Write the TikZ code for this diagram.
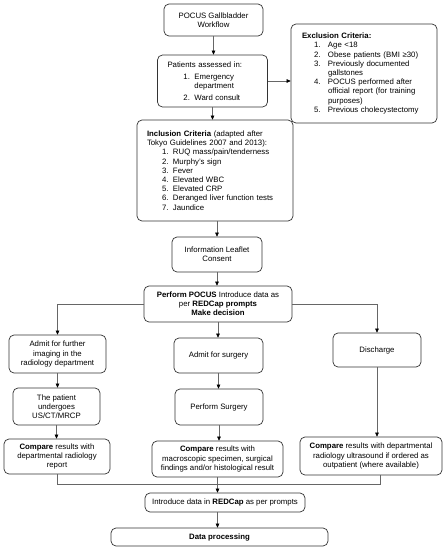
\documentclass[tikz,border=0pt]{standalone}
\usepackage{fontspec}
\setmainfont{Liberation Sans}
\usetikzlibrary{arrows.meta}
\newcommand\fsz{\fontsize{7.8}{9.2}\selectfont}
\newcommand\numb[1]{\makebox[11pt][l]{#1}}
\newcommand\numc[1]{\makebox[14pt][l]{#1}}
\begin{document}
\begin{tikzpicture}[x=1pt,y=-1pt,
  box/.style={draw=black!80, line width=0.7pt, rounded corners=5pt, inner sep=0pt, align=center, font=\fsz},
  conn/.style={draw=black!60, line width=0.6pt},
  arr/.style={conn, -{Triangle[length=4pt,width=3.6pt,color=black]}}]
\useasboundingbox[fill=white] (0,0) rectangle (445,550);

\node[box, minimum width=99pt, minimum height=32pt] (pocus) at (213.5,20) {POCUS Gallbladder\\Workflow};

\node[box, minimum width=110pt, minimum height=52pt, text width=90pt, align=left] (patients) at (212.5,81)
 {Patients assessed in:\\[2.5pt]
  \hspace*{16pt}\numb{1.}Emergency\\
  \hspace*{27pt}department\\[2.5pt]
  \hspace*{16pt}\numb{2.}Ward consult};

\node[box, minimum width=146pt, minimum height=99pt, text width=124pt, align=left] (excl) at (364,73.5)
 {\textbf{Exclusion Criteria:}\\
  \hspace*{12pt}\numc{1.}Age <18\\
  \hspace*{12pt}\numc{2.}Obese patients (BMI ≥30)\\
  \hspace*{12pt}\numc{3.}Previously documented\\
  \hspace*{26pt}gallstones\\
  \hspace*{12pt}\numc{4.}POCUS performed after\\
  \hspace*{26pt}official report (for training\\
  \hspace*{26pt}purposes)\\
  \hspace*{12pt}\numc{5.}Previous cholecystectomy};

\node[box, minimum width=156pt, minimum height=101pt, text width=136pt, align=left] (incl) at (215,170.5)
 {\textbf{Inclusion Criteria} (adapted after\\
  Tokyo Guidelines 2007 and 2013):\\
  \hspace*{15pt}\numb{1.}RUQ mass/pain/tenderness\\
  \hspace*{15pt}\numb{2.}Murphy's sign\\
  \hspace*{15pt}\numb{3.}Fever\\
  \hspace*{15pt}\numb{4.}Elevated WBC\\
  \hspace*{15pt}\numb{5.}Elevated CRP\\
  \hspace*{15pt}\numb{6.}Deranged liver function tests\\
  \hspace*{15pt}\numb{7.}Jaundice};

\node[box, minimum width=90pt, minimum height=35pt] (info) at (217,254.5) {Information Leaflet\\Consent};

\node[box, minimum width=148pt, minimum height=36pt] (perform) at (218,304)
 {\textbf{Perform POCUS} Introduce data as\\per \textbf{REDCap prompts}\\\textbf{Make decision}};

\node[box, minimum width=97pt, minimum height=38pt] (admitF) at (57.5,354) {Admit for further\\imaging in the\\radiology department};
\node[box, minimum width=87pt, minimum height=37pt] (undergo) at (56.5,406.5) {The patient\\undergoes\\US/CT/MRCP};
\node[box, minimum width=106pt, minimum height=35pt] (cmpL) at (57,456.5) {\textbf{Compare} results with\\departmental radiology\\report};

\node[box, minimum width=89pt, minimum height=35pt] (admitS) at (218.5,355.5) {Admit for surgery};
\node[box, minimum width=88pt, minimum height=36pt] (perfS) at (219,407) {Perform Surgery};
\node[box, minimum width=131pt, minimum height=36pt] (cmpM) at (217.5,459) {\textbf{Compare} results with\\macroscopic specimen, surgical\\findings and/or histological result};

\node[box, minimum width=88pt, minimum height=34pt] (discharge) at (377,350) {Discharge};
\node[box, minimum width=142pt, minimum height=38pt] (cmpR) at (371,456) {\textbf{Compare} results with departmental\\radiology ultrasound if ordered as\\outpatient (where available)};

\node[box, minimum width=160pt, minimum height=19pt] (intro) at (225,502.5) {Introduce data in \textbf{REDCap} as per prompts};
\node[box, minimum width=217pt, minimum height=18pt] (data) at (219.5,537) {\textbf{Data processing}};

% connectors
\draw[arr] (pocus.south) -- (pocus.south |- patients.north);
\draw[arr] (patients.east) -- (patients.east -| excl.west);
\draw[arr] (patients.south) -- (patients.south |- incl.north);
\draw[arr] ([xshift=2pt]incl.south) -- ([xshift=2pt]incl.south |- info.north);
\draw[arr] (info.south) -- (info.south |- perform.north);
\draw[arr] (perform.west) -| (admitF.north);
\draw[arr] (perform.east) -| (discharge.north);
\draw[arr] (perform.south) -- (perform.south |- admitS.north);
\draw[arr] (admitF.south) -- (admitF.south |- undergo.north);
\draw[arr] (undergo.south) -- (undergo.south |- cmpL.north);
\draw[arr] (admitS.south) -- (admitS.south |- perfS.north);
\draw[arr] (perfS.south) -- (perfS.south |- cmpM.north);
\draw[arr] (discharge.south) -- (discharge.south |- cmpR.north);
\coordinate (jm) at (217.5,484);
\draw[conn] (cmpL.south) |- (jm);
\draw[conn] ([xshift=9pt]cmpR.south) |- (jm);
\draw[arr] (cmpM.south) -- (cmpM.south |- intro.north);
\draw[arr] ([xshift=-7.5pt]intro.south) -- ([xshift=-7.5pt]intro.south |- data.north);
\end{tikzpicture}
\end{document}
